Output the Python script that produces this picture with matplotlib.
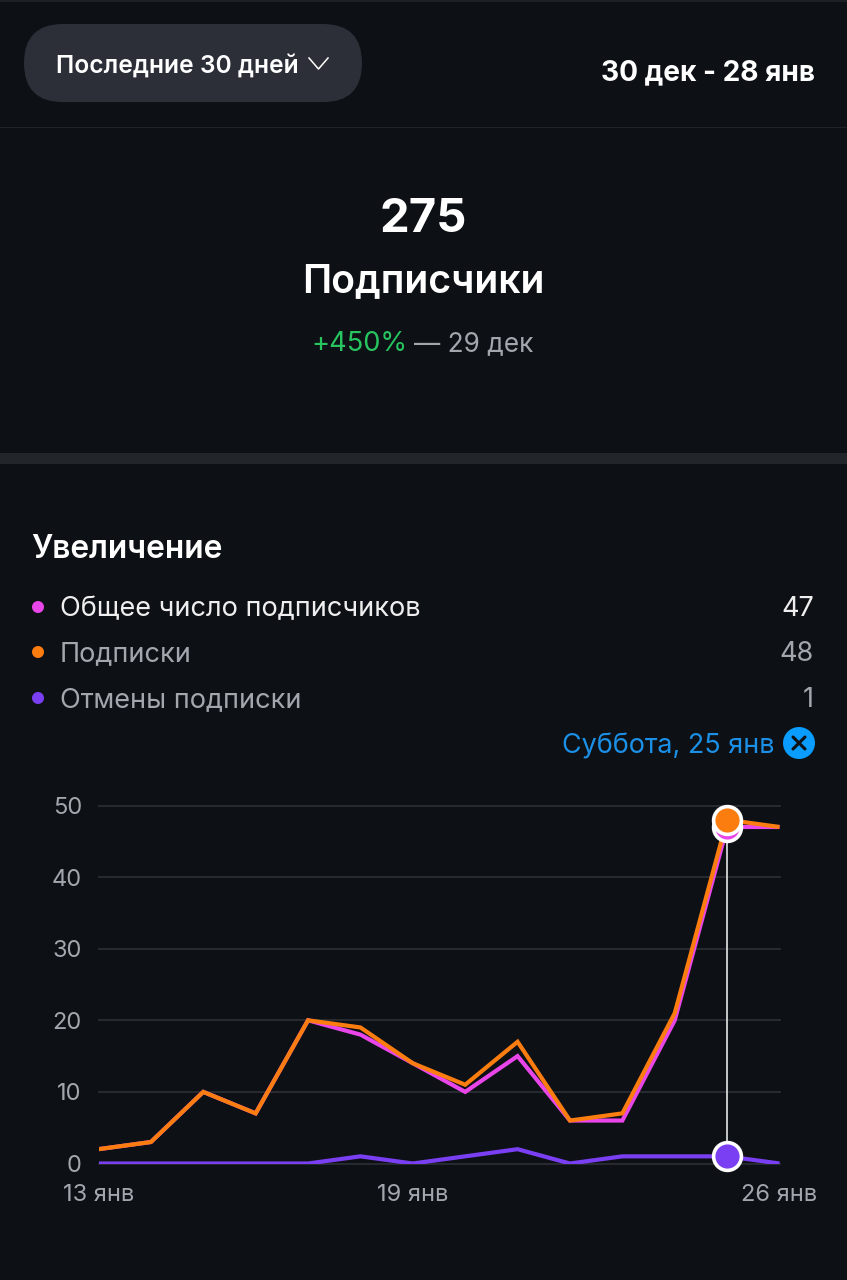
import matplotlib
matplotlib.use("Agg")
import matplotlib.pyplot as plt
from matplotlib.patches import FancyBboxPatch, Circle, Rectangle

days = list(range(14))
total = [2, 3, 10, 7, 20, 18, 14, 10, 15, 6, 6, 20, 47, 47]
subs = [2, 3, 10, 7, 20, 19, 14, 11, 17, 6, 7, 21, 48, 47]
unsubs = [0, 0, 0, 0, 0, 1, 0, 1, 2, 0, 1, 1, 1, 0]
y_ticks = [0, 10, 20, 30, 40, 50]
x_ticks = [0, 6, 13]
x_labels = ["13 янв", "19 янв", "26 янв"]
selected = 12
legend_names = ["Общее число подписчиков", "Подписки", "Отмены подписки"]
legend_values = ["47", "48", "1"]

BG = "#0d1015"
PINK = "#e846e8"
ORANGE = "#fb7d10"
PURPLE = "#7a3ff2"
GREY = "#a3a6ad"
BLUE = "#0a9cff"
FONT = "Inter"

plt.rcParams["font.family"] = [FONT, "DejaVu Sans"]
W, H = 847, 1280
fig = plt.figure(figsize=(W / 100, H / 100), dpi=100, facecolor=BG)

ui = fig.add_axes([0, 0, 1, 1])
ui.set_xlim(0, W)
ui.set_ylim(H, 0)
ui.axis("off")

ui.add_patch(Rectangle((0, 0), W, 1.5, color="#1c1f25", lw=0))
ui.add_patch(Rectangle((0, 126.5), W, 1.5, color="#1f2228", lw=0))
ui.add_patch(Rectangle((0, 453), W, 11, color="#22252a", lw=0))
ui.add_patch(FancyBboxPatch((63, 63), 260, 0.1, boxstyle="round,pad=39,rounding_size=39",
                            fc="#2c2f37", ec="none"))
ui.text(56, 66, "Последние 30 дней", color="white", fontsize=17.7, fontweight="semibold",
        va="center", ha="left")
ui.plot([309, 318.5, 328], [58, 69, 58], color="white", lw=1.1)
ui.text(815, 73, "30 дек - 28 янв", color="white", fontsize=20.2, fontweight="bold",
        va="center", ha="right")

ui.text(423.5, 220, "275", color="white", fontsize=34, fontweight="bold", va="center", ha="center")
ui.text(423.5, 282, "Подписчики", color="white", fontsize=28.2, fontweight="semibold",
        va="center", ha="center")
ui.text(311.5, 344, "+450%", color="#27c45f", fontsize=19.6, va="center", ha="left")
ui.text(414, 344, "— 29 дек", color=GREY, fontsize=18.9, va="center", ha="left")

ui.text(31.5, 550, "Увеличение", color="white", fontsize=22.8, fontweight="semibold",
        va="center", ha="left")
for yy, col, name, val, tc in zip([607, 652, 698], [PINK, ORANGE, PURPLE], legend_names,
                                  legend_values, ["#eeeeee", GREY, GREY]):
    ui.add_patch(Circle((38, yy), 6, color=col, lw=0))
    ui.text(60, yy + 2, name, color=tc, fontsize=19.5, va="center", ha="left")
    ui.text(814, yy + 2, val, color=tc, fontsize=19.5, va="center", ha="right")

ui.text(774, 746, "Суббота, 25 янв", color="#1b90e6", fontsize=19.4, va="center", ha="right")
ui.add_patch(Circle((799, 743), 16, color=BLUE, lw=0))
ui.plot([793, 805], [737, 749], color=BG, lw=2.2, solid_capstyle="round")
ui.plot([793, 805], [749, 737], color=BG, lw=2.2, solid_capstyle="round")

ax = fig.add_axes([98.5 / W, 1 - 1163.5 / H, 681 / W, 358 / H], facecolor="none")
ax.set_xlim(0, 13)
ax.set_ylim(0, 50)
for s in ax.spines.values():
    s.set_visible(False)
ax.set_yticks(y_ticks)
ax.set_yticklabels([str(v) for v in y_ticks])
ax.set_xticks(x_ticks)
ax.set_xticklabels(x_labels)
ax.tick_params(axis="both", length=0, labelcolor=GREY, labelsize=17)
ax.tick_params(axis="y", pad=12)
ax.tick_params(axis="x", pad=15)
ax.grid(axis="y", color="#2a2d33", lw=1.3, clip_on=False)
ax.grid(axis="x", visible=False)
ax.set_axisbelow(True)

lw = 3.0
for series, col in [(total, PINK), (subs, ORANGE), (unsubs, PURPLE)]:
    ax.plot(days, series, color=col, lw=lw, clip_on=True, solid_joinstyle="miter",
            solid_capstyle="butt", zorder=4 if col != PINK else 3)

ax.plot([selected, selected], [unsubs[selected], total[selected]], color="#e6e6e6", lw=1.2, zorder=5)
for series, col, z in [(total, PINK, 6), (subs, ORANGE, 7), (unsubs, PURPLE, 7)]:
    ax.plot([selected], [series[selected]], "o", ms=20, mfc=col, mec="white", mew=2.6,
            clip_on=False, zorder=z)

fig.savefig("out.png", dpi=100, facecolor=BG)
